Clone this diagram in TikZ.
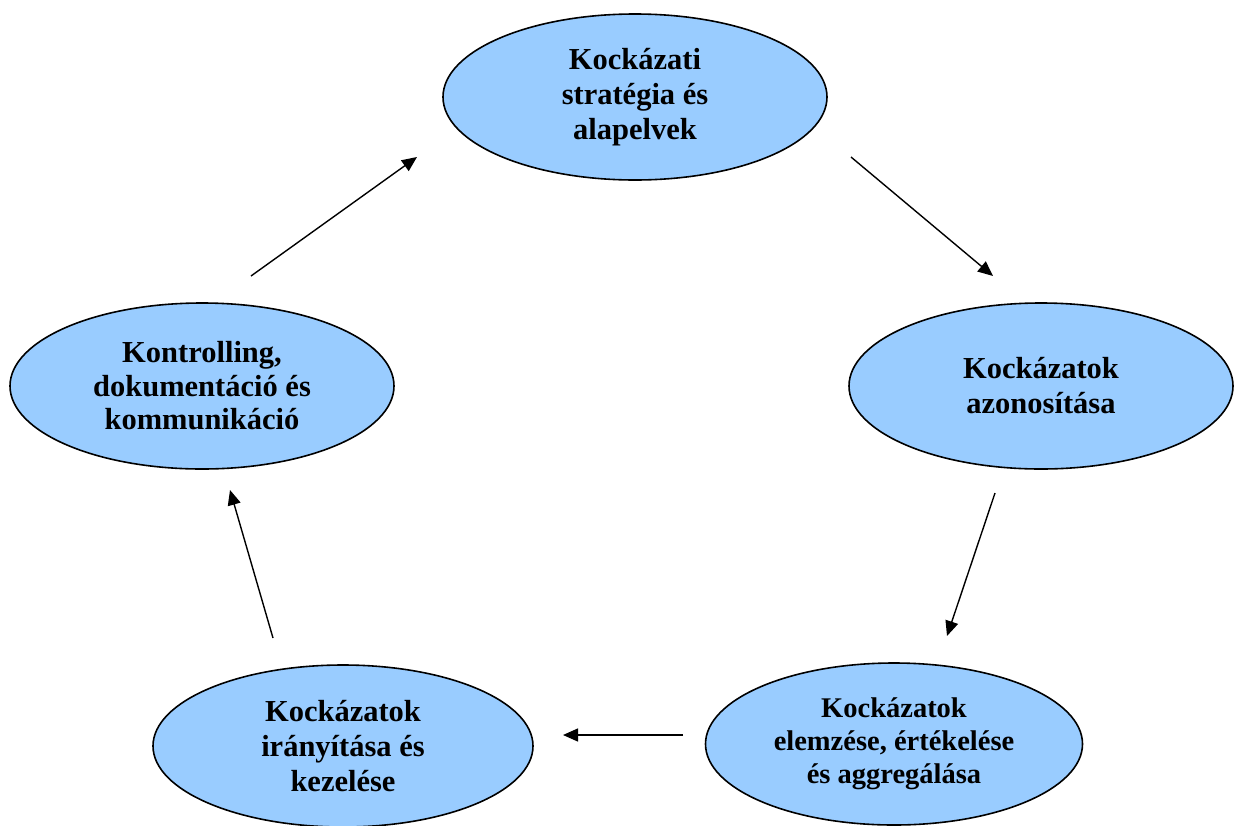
\documentclass[tikz,border=0pt]{standalone}
\usepackage{fontspec}
\setmainfont{Liberation Serif}
\usetikzlibrary{shapes.geometric,arrows.meta}
\definecolor{cyclefill}{HTML}{99CCFF}
\tikzset{
  phase/.style={ellipse, draw=black, line width=1.6pt, fill=cyclefill,
    minimum width=384pt, minimum height=166pt, inner sep=0pt, align=center,
    font=\fontsize{30.5}{35}\selectfont\bfseries},
  flow/.style={line width=1.4pt, -{Triangle[length=15pt,width=13pt]}}
}
\begin{document}
\begin{tikzpicture}[x=1pt,y=-1pt]
\useasboundingbox (0,0) rectangle (1234,825);
% the five phases of the risk management cycle
\node[phase] (strat) at (635,97) {Kockázati\\stratégia és\\alapelvek};
\node[phase] (azon) at (1041,386) {Kockázatok\\azonosítása};
\node[phase, minimum width=377pt, minimum height=162pt,
  font=\fontsize{28.5}{33}\selectfont\bfseries] (elem) at (894,744)
  {Kockázatok\\elemzése, értékelése\\és aggregálása};
\node[phase, minimum width=380pt, minimum height=162pt] (iran) at (343,746) {Kockázatok\\irányítása és\\kezelése};
\node[phase, font=\fontsize{30.5}{33.5}\selectfont\bfseries] (kontr) at (202,386)
  {Kontrolling,\\dokumentáció és\\kommunikáció};
% free-standing arrows between consecutive phases
\coordinate (a1s) at (851,157); \coordinate (a1e) at (993,276);
\coordinate (a2s) at (995,493); \coordinate (a2e) at (947,636);
\coordinate (a3s) at (683,735); \coordinate (a3e) at (563,735);
\coordinate (a4s) at (273,638); \coordinate (a4e) at (230,490);
\coordinate (a5s) at (251,276); \coordinate (a5e) at (417,157);
\draw[flow] (a1s) -- (a1e);
\draw[flow] (a2s) -- (a2e);
\draw[flow] (a3s) -- (a3e);
\draw[flow] (a4s) -- (a4e);
\draw[flow] (a5s) -- (a5e);
\end{tikzpicture}
\end{document}
